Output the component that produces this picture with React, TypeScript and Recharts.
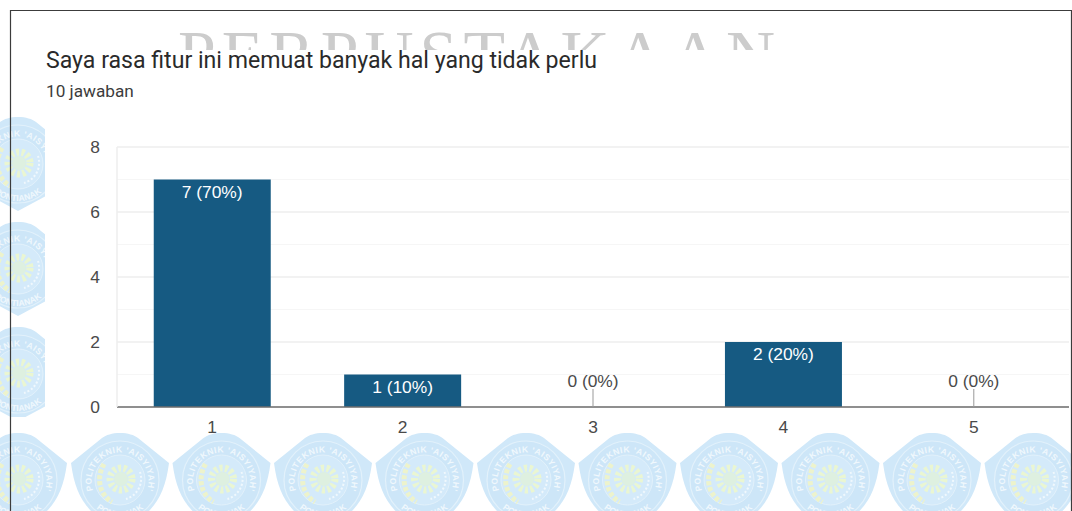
import React from 'react';
import { ComposedChart, Bar, Line, XAxis, YAxis, CartesianGrid, LabelList } from 'recharts';

const categories = ['1', '2', '3', '4', '5'];
const counts = [7, 1, 0, 2, 0];
const percents = [70, 10, 0, 20, 0];
const gridTicks = [0, 1, 2, 3, 4, 5, 6, 7, 8];
const title = 'Saya rasa fitur ini memuat banyak hal yang tidak perlu';
const subtitle = '10 jawaban';
const watermark = 'PERPUSTAKAAN';
const emblemRowX = [18, 120, 221.5, 323, 424.5, 526, 627.5, 729, 830.5, 932, 1033.5];
const emblemColY = [164, 269, 374];

const chartData = categories.map((c, i) => ({ name: c, count: counts[i], label: `${counts[i]} (${percents[i]}%)` }));

const FONT = '"Liberation Sans", Arial, sans-serif';

// one logo of the background pattern, drawn round its centre
function Emblem({ cx, cy, id }: { cx: number; cy: number; id: string }) {
    return (
        <g transform={`translate(${cx} ${cy})`}>
            <path
                d="M0 -47 C8 -47 14 -45 18 -42 L49 -17 C46 6 40 20 28 32 L0 47 L-28 32 C-40 20 -46 6 -49 -17 L-18 -42 C-14 -45 -8 -47 0 -47 Z"
                fill="#d0e8f9"
            />
            <circle r={39} fill="#cde6f8" stroke="#e2f1fb" strokeWidth={1.2} />
            <circle r={25} fill="#d4eafa" stroke="#e2f1fb" strokeWidth={1} />
            <path id={`${id}-t`} d="M-27 10 A28.5 28.5 0 1 1 27 10" fill="none" />
            <text fontFamily={FONT} fontSize={8.6} fontWeight="bold" fill="#f0f8fd" letterSpacing={0.5}>
                <textPath href={`#${id}-t`} startOffset="50%" textAnchor="middle">POLITEKNIK 'AISYIYAH'</textPath>
            </text>
            <path id={`${id}-b`} d="M-29 23 A37 37 0 0 0 29 23" fill="none" />
            <text fontFamily={FONT} fontSize={8.6} fontWeight="bold" fill="#f0f8fd">
                <textPath href={`#${id}-b`} startOffset="50%" textAnchor="middle">PONTIANAK</textPath>
            </text>
            <path d="M-16 -16 C-24 -2 -21 14 -8 22" fill="none" stroke="#edf3cc" strokeWidth={5} strokeDasharray="4 2" />
            <path d="M20 -8 A21 21 0 0 1 6 19" fill="none" stroke="#f0f8fd" strokeWidth={2} strokeDasharray="2 2" />
            <circle cx={1} cy={-1} r={7} fill="#def0e0" />
            <circle cx={1} cy={-1} r={11} fill="none" stroke="#eaf6d2" strokeWidth={7} strokeDasharray="3 2.4" />
        </g>
    );
}

function Background() {
    return (
        <svg width={1072} height={511} style={{ position: 'absolute', left: 0, top: 0 }}>
            <defs>
                <clipPath id="pattern-clip">
                    <rect x={0} y={112} width={45} height={305} />
                    <rect x={0} y={433} width={1072} height={78} />
                </clipPath>
                <clipPath id="mark-clip">
                    <rect x={0} y={0} width={1072} height={50} />
                </clipPath>
            </defs>
            <g clipPath="url(#pattern-clip)">
                {emblemColY.map((y, i) => <Emblem key={y} cx={emblemRowX[0]} cy={y} id={`c${i}`} />)}
                {emblemRowX.map((x, i) => <Emblem key={x} cx={x} cy={480} id={`r${i}`} />)}
            </g>
            <text
                x={178}
                y={77}
                clipPath="url(#mark-clip)"
                fontFamily='"Liberation Serif", serif'
                fontSize={68}
                fill="#cccccc"
                textLength={597}
            >
                {watermark}
            </text>
            <path d="M10.5 511 V10.5 H1071.5 V511" fill="none" stroke="#3c3c3c" strokeWidth={1.2} />
        </svg>
    );
}

// white label inside a bar, or a stem with a dark label when the value is zero
function BarLabel({ x, y, value, index }: any) {
    if (counts[index] === 0) {
        return (
            <g>
                <line x1={x} x2={x} y1={y - 18} y2={y} stroke="#999999" strokeWidth={1} />
                <text x={x} y={y - 20} textAnchor="middle" fontFamily={FONT} fontSize={17.4} fill="#4a4a4a">{value}</text>
            </g>
        );
    }
    return (
        <text x={x} y={y + 18} textAnchor="middle" fontFamily={FONT} fontSize={17.4} fill="#ffffff">{value}</text>
    );
}

// even values get the stronger grid line
function GridLine({ x1, x2, y1, y2, index }: any) {
    const major = index % 2 === 0;
    return <line x1={x1} x2={x2} y1={y1} y2={y2} stroke={major ? '#eeeeee' : '#f6f6f6'} strokeWidth={major ? 1.5 : 1} />;
}

export default function App() {
    return (
        <div style={{ position: 'absolute', left: 0, top: 0, width: 1072, height: 511, background: '#fff', overflow: 'hidden' }}>
            <Background />
            <div style={{ position: 'absolute', left: 46, top: 47, fontFamily: 'Roboto, sans-serif', fontSize: 23.1, lineHeight: '28px', color: '#2a2a2a', whiteSpace: 'nowrap' }}>
                {title}
            </div>
            <div style={{ position: 'absolute', left: 46, top: 81, fontFamily: 'Roboto, sans-serif', fontSize: 17.2, lineHeight: '20px', color: '#3c3c3c', whiteSpace: 'nowrap' }}>
                {subtitle}
            </div>
            <div style={{ position: 'absolute', left: 0, top: 0 }}>
                <ComposedChart
                    width={1072}
                    height={511}
                    data={chartData}
                    margin={{ top: 147, right: 3, bottom: 74, left: 57 }}
                    barCategoryGap="19.3%"
                >
                    <CartesianGrid vertical={false} horizontal={GridLine} />
                    <XAxis
                        dataKey="name"
                        height={30}
                        tickLine={false}
                        axisLine={{ stroke: '#6e6e6e', strokeWidth: 1.5 }}
                        tick={{ fontFamily: FONT, fontSize: 17.4, fill: '#4a4a4a' }}
                        tickMargin={8}
                    />
                    <YAxis
                        width={60}
                        domain={[0, 8]}
                        ticks={gridTicks}
                        interval={0}
                        tickFormatter={(v: number) => (v % 2 === 0 ? String(v) : '')}
                        tickLine={false}
                        axisLine={{ stroke: '#eeeeee', strokeWidth: 1.5 }}
                        tick={{ fontFamily: FONT, fontSize: 17.4, fill: '#4a4a4a' }}
                        tickMargin={11}
                    />
                    <Bar dataKey="count" fill="#165a82" isAnimationActive={false} />
                    <Line dataKey="count" stroke="none" dot={false} activeDot={false} legendType="none" isAnimationActive={false}>
                        <LabelList dataKey="label" content={BarLabel} />
                    </Line>
                </ComposedChart>
            </div>
        </div>
    );
}
